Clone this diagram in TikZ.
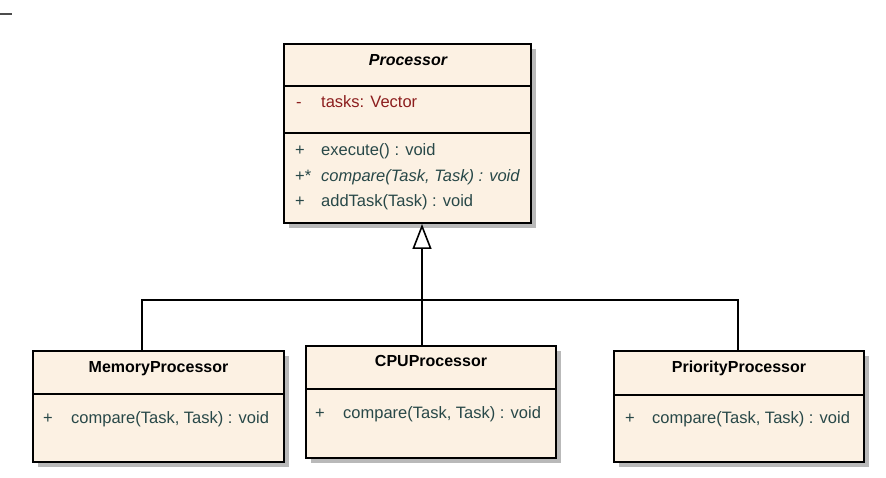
\documentclass[tikz,border=0pt]{standalone}
\usepackage{fontspec}
\setmainfont{Liberation Sans}
\usetikzlibrary{shadows,arrows.meta}
\definecolor{boxfill}{RGB}{252,241,227}
\definecolor{attrcol}{RGB}{140,30,30}
\definecolor{opcol}{RGB}{40,72,72}
\definecolor{shadowcol}{RGB}{185,185,185}
\tikzset{
  classbox/.style={draw=black, line width=2pt, fill=boxfill, inner sep=0pt,
    drop shadow={shadow xshift=5pt, shadow yshift=-5pt, fill=shadowcol, opacity=1}},
  sep/.style={line width=1.6pt, black},
  titletext/.style={font=\fontsize{16}{19}\selectfont\bfseries, anchor=mid, inner sep=0pt, yshift=-3pt},
  optext/.style={font=\fontsize{16.5}{19}\selectfont, text=opcol, anchor=mid west, inner sep=0pt, yshift=-3pt},
  attrtext/.style={font=\fontsize{16.5}{19}\selectfont, text=attrcol, anchor=mid west, inner sep=0pt, yshift=-3pt},
  conn/.style={line width=1.6pt, black},
}
\begin{document}
\begin{tikzpicture}[x=1pt,y=-1pt]
\useasboundingbox (0,0) rectangle (886,478);
% stray mark top-left
\draw[line width=2pt, gray!60!black] (0,14) -- (12,14);

% Processor
\node[classbox, minimum width=247pt, minimum height=179pt] (proc) at (407.5,133.5) {};
\draw[sep] (284,86) -- (531,86);
\draw[sep] (284,133) -- (531,133);
\node[titletext] (procT) at (408,60) {\itshape Processor};
\node[attrtext] (pa1) at (296,102) {-};
\node[attrtext] (pa2) at (321,102) {tasks: Vector};
\node[optext] (po1a) at (295,150) {+};
\node[optext] (po1b) at (321,150) {execute() : void};
\node[optext] (po2a) at (295,176) {+*};
\node[optext] (po2b) at (321,176) {\itshape compare(Task, Task) : void};
\node[optext] (po3a) at (295,201) {+};
\node[optext] (po3b) at (321,201) {addTask(Task) : void};

% MemoryProcessor
\node[classbox, minimum width=251pt, minimum height=111pt] (mem) at (158.5,406.5) {};
\draw[sep] (33,394) -- (284,394);
\node[titletext] (memT) at (158.5,367) {MemoryProcessor};
\node[optext] (mo1a) at (43,418) {+};
\node[optext] (mo1b) at (71,418) {compare(Task, Task) : void};

% CPUProcessor
\node[classbox, minimum width=250pt, minimum height=112pt] (cpu) at (431,402) {};
\draw[sep] (306,389) -- (556,389);
\node[titletext] (cpuT) at (431,361) {CPUProcessor};
\node[optext] (co1a) at (315,413) {+};
\node[optext] (co1b) at (343,413) {compare(Task, Task) : void};

% PriorityProcessor
\node[classbox, minimum width=250pt, minimum height=111pt] (prio) at (739,406.5) {};
\draw[sep] (614,395) -- (864,395);
\node[titletext] (prioT) at (739,367) {PriorityProcessor};
\node[optext] (pr1a) at (625,418) {+};
\node[optext] (pr1b) at (652,418) {compare(Task, Task) : void};

% generalization connectors
\coordinate (j) at (422,300);
\coordinate (jm) at (142,300);
\coordinate (jp) at (738,300);
\draw[conn] (jm |- mem.north) -- (jm) -- (jp) -- (jp |- prio.north);
\draw[conn] (j |- cpu.north) -- (j);
\draw[conn, -{Triangle[open, fill=white, width=19pt, length=25pt, line width=1.6pt]}] (j) -- (j |- proc.south);
\end{tikzpicture}
\end{document}
